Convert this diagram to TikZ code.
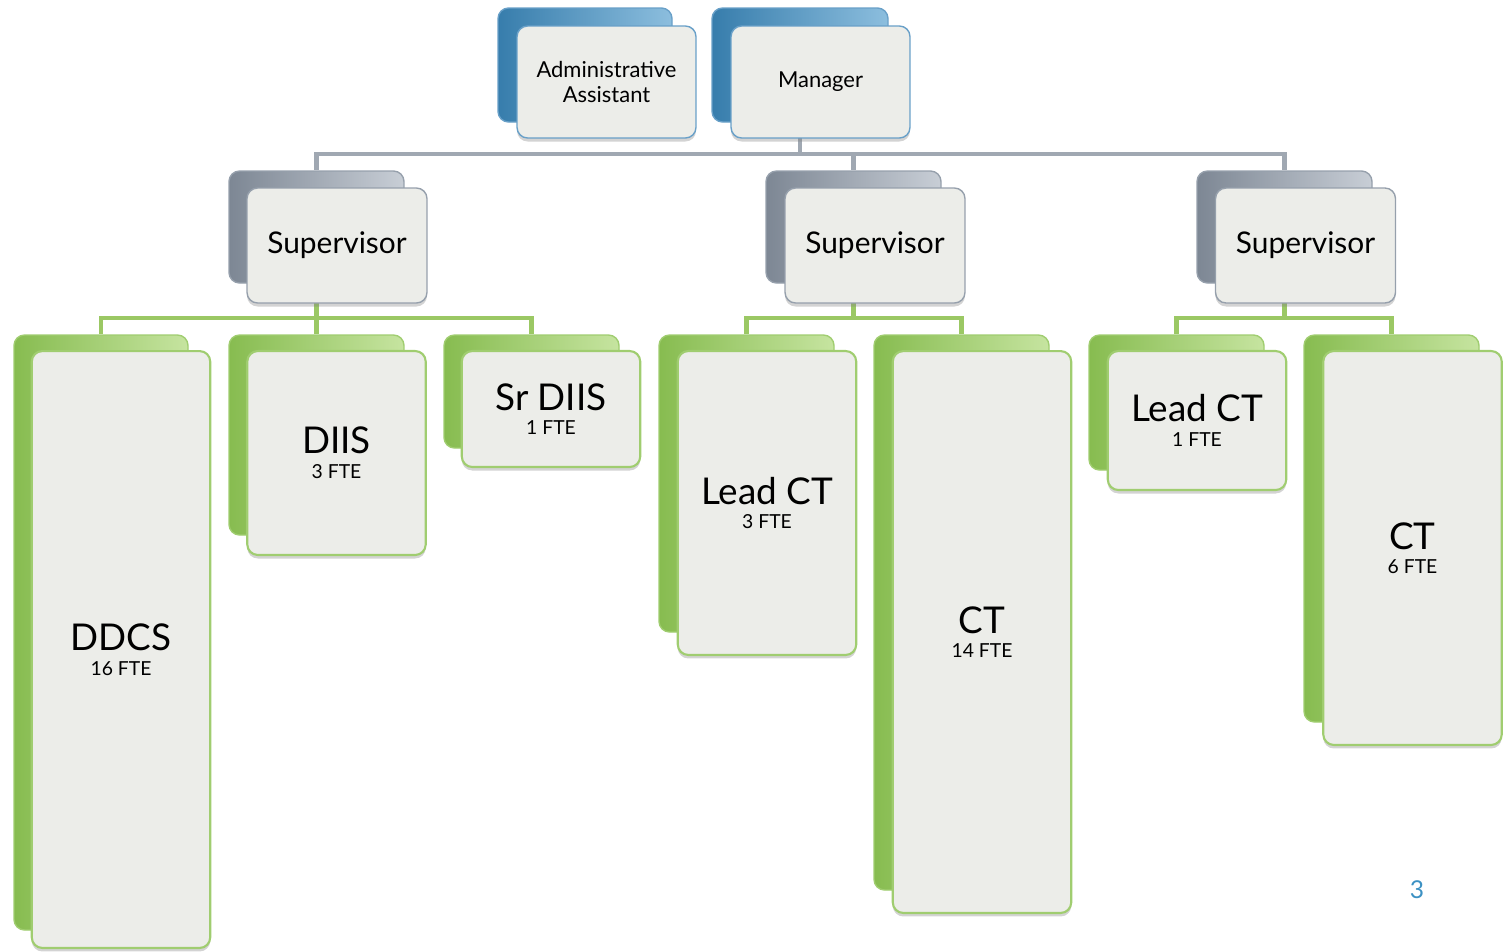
\documentclass[tikz,border=0pt]{standalone}
\usepackage{fontspec}
\setmainfont{Lato}
\usetikzlibrary{fit,shadows,backgrounds}

\definecolor{blueD}{RGB}{55,125,172}
\definecolor{blueL}{RGB}{140,190,222}
\definecolor{blueE}{RGB}{105,160,200}
\definecolor{grayD}{RGB}{125,135,148}
\definecolor{grayL}{RGB}{200,206,214}
\definecolor{grayE}{RGB}{150,160,172}
\definecolor{greenD}{RGB}{135,188,80}
\definecolor{greenL}{RGB}{198,228,160}
\definecolor{greenE}{RGB}{160,205,112}
\definecolor{paper}{RGB}{236,237,233}
\definecolor{wireG}{RGB}{160,168,178}
\definecolor{wireN}{RGB}{155,200,100}
\definecolor{pagenum}{RGB}{60,145,195}

\newcommand{\staff}[2]{{\fontsize{21}{14}\selectfont #1}\\{\fontsize{11}{14}\selectfont #2}}

\tikzstyle{box} = [rounded corners=6pt, inner sep=0pt, line width=0.8pt]
\tikzstyle{blueback} = [box, draw=blueE, left color=blueD, right color=blueL]
\tikzstyle{grayback} = [box, draw=grayE, left color=grayD, right color=grayL]
\tikzstyle{greenback} = [box, draw=greenE, left color=greenD, right color=greenL]
\tikzstyle{front} = [box, fill=paper, align=center,
   drop shadow={shadow xshift=0pt, shadow yshift=-2pt, opacity=0.35}]
\tikzstyle{bluefront} = [front, draw=blueE, minimum width=3.58cm, minimum height=2.24cm,
   font=\fontsize{12.5}{14}\selectfont]
\tikzstyle{grayfront} = [front, draw=grayE, minimum width=3.6cm, minimum height=2.3cm,
   font=\fontsize{17}{20}\selectfont]
\tikzstyle{greenfront} = [front, draw=greenE, line width=1.2pt, minimum width=3.57cm,
   font=\fontsize{11}{14}\selectfont]
\tikzstyle{grayline} = [wireG, line width=2.3pt]
\tikzstyle{greenline} = [wireN, line width=2.3pt]

\begin{document}
\begin{tikzpicture}[x=0.02cm,y=-0.02cm]
\useasboundingbox (0,0) rectangle (1508,951);

%% top row
\node[blueback, fit={(498,8) (672,122)}] (admb) {};
\node[bluefront] (adm) at (606.5,82) {Administrative\\Assistant};
\node[blueback, fit={(712,8) (888,122)}] (mgrb) {};
\node[bluefront] (mgr) at (820.5,82) {Manager};

%% supervisors
\node[grayback, fit={(229,171) (404,283)}] (sup1b) {};
\node[grayfront] (sup1) at (337,245.5) {Supervisor};
\node[grayback, fit={(766,171) (941,283)}] (sup2b) {};
\node[grayfront] (sup2) at (875,245.5) {Supervisor};
\node[grayback, fit={(1197,171) (1372,283)}] (sup3b) {};
\node[grayfront] (sup3) at (1305.5,245.5) {Supervisor};

%% first group
\node[greenback, fit={(14,335) (188,930)}] (ddcsb) {};
\node[greenfront, minimum height=11.94cm] (ddcs) at (121,649.5) {\staff{DDCS}{16 FTE}};
\node[greenback, fit={(229,335) (404,535)}] (diisb) {};
\node[greenfront, minimum height=4.08cm] (diis) at (336.5,453) {\staff{DIIS}{3 FTE}};
\node[greenback, fit={(444,335) (619,448)}] (srdiisb) {};
\node[greenfront, minimum height=2.32cm] (srdiis) at (551,409) {\staff{Sr DIIS}{1 FTE}};

%% second group
\node[greenback, fit={(659,335) (834,632)}] (lead1b) {};
\node[greenfront, minimum height=6.08cm] (lead1) at (767,503) {\staff{Lead CT}{3 FTE}};
\node[greenback, fit={(874,335) (1049,890)}] (ct1b) {};
\node[greenfront, minimum height=11.24cm] (ct1) at (982,632) {\staff{CT}{14 FTE}};

%% third group
\node[greenback, fit={(1089,335) (1264,470)}] (lead2b) {};
\node[greenfront, minimum height=2.78cm] (lead2) at (1197,420.5) {\staff{Lead CT}{1 FTE}};
\node[greenback, fit={(1304,335) (1479,722)}] (ct2b) {};
\node[greenfront, minimum height=7.88cm] (ct2) at (1412.5,548) {\staff{CT}{6 FTE}};

% page number
\node[text=pagenum, font=\fontsize{14}{14}\selectfont] (pageno) at (1417,890) {3};

%% connectors
\begin{pgfonlayer}{background}
\coordinate (topbus) at (800,154);
\draw[grayline] (mgrb.south) -- (topbus);
\draw[grayline] (topbus) -| (sup1b.north);
\draw[grayline] (topbus) -| (sup2b.north);
\draw[grayline] (topbus) -| (sup3b.north);

\coordinate (bus1) at (316.5,318);
\draw[greenline] (sup1b.south) -- (bus1);
\draw[greenline] (bus1) -| (ddcsb.north);
\draw[greenline] (bus1) -| (diisb.north);
\draw[greenline] (bus1) -| (srdiisb.north);

\coordinate (bus2) at (853.5,318);
\draw[greenline] (sup2b.south) -- (bus2);
\draw[greenline] (bus2) -| (lead1b.north);
\draw[greenline] (bus2) -| (ct1b.north);

\coordinate (bus3) at (1284.5,318);
\draw[greenline] (sup3b.south) -- (bus3);
\draw[greenline] (bus3) -| (lead2b.north);
\draw[greenline] (bus3) -| (ct2b.north);
\end{pgfonlayer}
\end{tikzpicture}
\end{document}
